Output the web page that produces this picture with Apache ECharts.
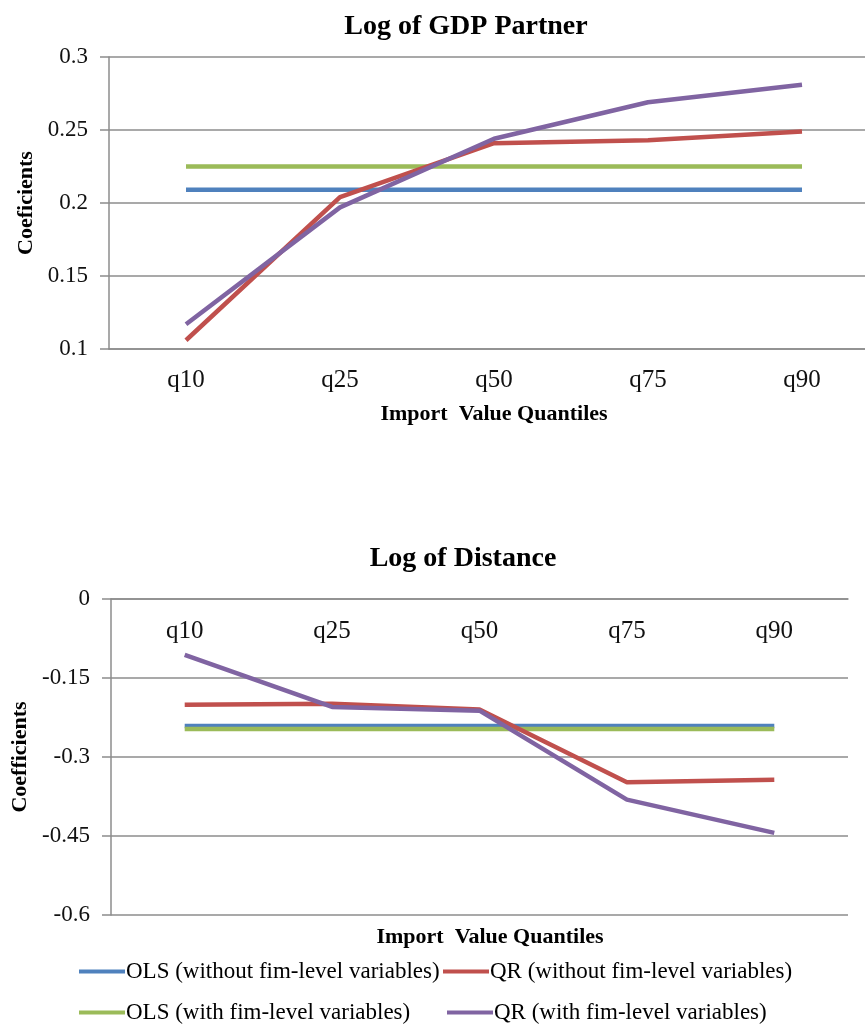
<!DOCTYPE html>
<html lang="en">
<head>
    <meta charset="utf-8">
    <title>Quantile coefficients</title>
    <script src="https://cdn.jsdelivr.net/npm/echarts@6.0.0/dist/echarts.min.js"></script>
    <style>
        * { margin: 0; padding: 0; box-sizing: border-box; }
        html, body { width: 100%; height: 100%; background: #fff; }
        #main { width: 865px; height: 1027px; }
    </style>
</head>
<body>
<div id="main"></div>
<script>
    // data
    const quantiles = ['q10', 'q25', 'q50', 'q75', 'q90'];
    const seriesNames = [
        'OLS (without fim-level variables)',
        'QR (without fim-level variables)',
        'OLS (with fim-level variables)',
        'QR (with fim-level variables)'
    ];

    // Log of GDP Partner
    const gdpOlsWithout = [0.209, 0.209, 0.209, 0.209, 0.209];
    const gdpQrWithout = [0.106, 0.204, 0.241, 0.243, 0.249];
    const gdpOlsWith = [0.225, 0.225, 0.225, 0.225, 0.225];
    const gdpQrWith = [0.117, 0.197, 0.244, 0.269, 0.281];
    const gdpTicks = { min: 0.1, max: 0.3, step: 0.05 };

    // Log of Distance
    const distOlsWithout = [-0.241, -0.241, -0.241, -0.241, -0.241];
    const distQrWithout = [-0.201, -0.199, -0.210, -0.348, -0.343];
    const distOlsWith = [-0.247, -0.247, -0.247, -0.247, -0.247];
    const distQrWith = [-0.106, -0.205, -0.212, -0.381, -0.444];
    const distTicks = { min: -0.6, max: 0, step: 0.15 };

    const colors = ['#4F81BD', '#C0504D', '#9BBB59', '#8064A2'];
    const serif = '"Liberation Serif", "DejaVu Serif", serif';
    const axisGrey = '#8c8c8c';

    const chart = echarts.init(document.getElementById('main'));

    const lineSeries = (name, data, axisIdx, color) => ({
        name: name,
        type: 'line',
        xAxisIndex: axisIdx,
        yAxisIndex: axisIdx,
        data: data,
        symbol: 'none',
        color: color,
        lineStyle: { width: 4.5, color: color },
        animation: false
    });

    const fmt = v => String(+v.toFixed(2));

    // one legend per entry so the two columns line up like the original
    const legendAt = (name, left, top) => ({
        data: [name], left: left, top: top,
        icon: 'rect', itemWidth: 46, itemHeight: 4, padding: 0,
        textStyle: { fontFamily: serif, fontSize: 23, color: '#000', padding: [0, 0, 0, -4] }
    });

    const boldText = size => ({ fontFamily: serif, fontSize: size, fontWeight: 'bold', color: '#000' });

    const valueAxis = (idx, ticks, name, gap) => ({
        gridIndex: idx, type: 'value',
        min: ticks.min, max: ticks.max, interval: ticks.step,
        name: name, nameLocation: 'middle', nameGap: gap, nameRotate: 90,
        nameTextStyle: boldText(22),
        axisLine: { show: true, lineStyle: { color: axisGrey, width: 1.5 } },
        axisTick: { show: true, length: 9, lineStyle: { color: axisGrey, width: 1.5 } },
        splitLine: { lineStyle: { color: axisGrey, width: 1.5 } },
        axisLabel: { fontFamily: serif, fontSize: 23, color: '#111', margin: 21, formatter: fmt }
    });

    const option = {
        backgroundColor: '#fff',
        title: [
            { text: 'Log of GDP Partner', left: 461, top: 8, textAlign: 'center', textStyle: boldText(28) },
            { text: 'Log of Distance', left: 458, top: 540, textAlign: 'center', textStyle: boldText(28) },
            { text: 'Import  Value Quantiles', left: 485, top: 921, textAlign: 'center', textStyle: boldText(22) }
        ],
        legend: [
            legendAt(seriesNames[0], 79, 960),
            legendAt(seriesNames[1], 443, 960),
            legendAt(seriesNames[2], 79, 1001),
            legendAt(seriesNames[3], 447, 1001)
        ],
        grid: [
            { left: 109, top: 57, width: 770, height: 292, outerBoundsMode: 'none' },
            { left: 111, top: 599, width: 737, height: 316, outerBoundsMode: 'none' }
        ],
        xAxis: [
            {
                gridIndex: 0, type: 'category', data: quantiles,
                name: 'Import  Value Quantiles', nameLocation: 'middle', nameGap: 54,
                nameTextStyle: boldText(22),
                axisLine: { lineStyle: { color: axisGrey, width: 1.5 } },
                axisTick: { show: false },
                axisLabel: { fontFamily: serif, fontSize: 25, color: '#111', margin: 19 }
            },
            {
                gridIndex: 1, type: 'category', data: quantiles, position: 'top',
                axisLine: { onZero: false, lineStyle: { color: axisGrey, width: 1.5 } },
                axisTick: { show: false },
                axisLabel: { inside: true, fontFamily: serif, fontSize: 25, color: '#111', margin: 20 }
            }
        ],
        yAxis: [
            valueAxis(0, gdpTicks, 'Coeficients', 71),
            valueAxis(1, distTicks, 'Coefficients', 67)
        ],
        series: [
            lineSeries(seriesNames[0], gdpOlsWithout, 0, colors[0]),
            lineSeries(seriesNames[2], gdpOlsWith, 0, colors[2]),
            lineSeries(seriesNames[1], gdpQrWithout, 0, colors[1]),
            lineSeries(seriesNames[3], gdpQrWith, 0, colors[3]),
            lineSeries(seriesNames[0], distOlsWithout, 1, colors[0]),
            lineSeries(seriesNames[2], distOlsWith, 1, colors[2]),
            lineSeries(seriesNames[1], distQrWithout, 1, colors[1]),
            lineSeries(seriesNames[3], distQrWith, 1, colors[3])
        ]
    };

    chart.setOption(option);
</script>
</body>
</html>
